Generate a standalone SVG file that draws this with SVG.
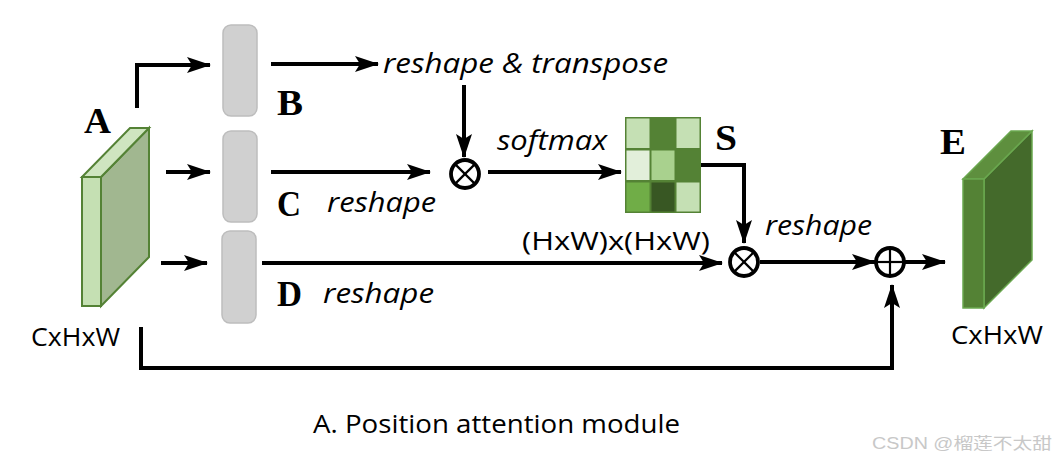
<svg xmlns="http://www.w3.org/2000/svg" width="1056" height="461" viewBox="0 0 1056 461">
<defs>
<marker id="ah" markerUnits="userSpaceOnUse" markerWidth="26" markerHeight="18" refX="23" refY="8" orient="auto">
<path d="M0,0 L24,8 L0,16 L5,8 z" fill="#000"/>
</marker>
<style>
.ln{fill:none;stroke:#000;stroke-width:4;marker-end:url(#ah)}
.op{fill:#fff;stroke:#000;stroke-width:3.8}
.opx{stroke:#000;stroke-width:2.2}
.box{fill:#d0d0d0;stroke:#bdbdbd;stroke-width:1.5}
.it{font-family:"Open Sans",sans-serif;font-style:italic;font-size:28px;fill:#000}
.rg{font-family:"Open Sans",sans-serif;font-size:25px;fill:#000}
.lb{font-family:"Liberation Serif",serif;font-weight:bold;font-size:35px;fill:#000}
</style>
</defs>
<rect width="1056" height="461" fill="#fff"/>

<g id="cubeA">
<polygon points="101,177 149,128 149,257 101,306" fill="#a1b790" stroke="#548235" stroke-width="2"/>
<polygon points="82,177 130,128 149,128 101,177" fill="#cfe5c0" stroke="#548235" stroke-width="2"/>
<rect x="82" y="177" width="19" height="129" fill="#c5e0b3" stroke="#548235" stroke-width="2"/>
<text class="lb" x="84" y="133" font-size="37" textLength="27" lengthAdjust="spacingAndGlyphs">A</text>
<text class="rg" x="31" y="346" font-size="27" textLength="89" lengthAdjust="spacingAndGlyphs">CxHxW</text>
</g>

<g id="boxB">
<rect class="box" x="223" y="25" width="34" height="91" rx="8"/>
<text class="lb" x="277" y="115" textLength="26" lengthAdjust="spacingAndGlyphs">B</text>
</g>
<g id="boxC">
<rect class="box" x="223" y="131" width="34" height="91" rx="8"/>
<text class="lb" x="277" y="216" textLength="24" lengthAdjust="spacingAndGlyphs">C</text>
</g>
<g id="boxD">
<rect class="box" x="222" y="231" width="34" height="92" rx="8"/>
<text class="lb" x="277" y="306" textLength="25" lengthAdjust="spacingAndGlyphs">D</text>
</g>

<g id="matrixS">
<rect x="625" y="117" width="76" height="96" fill="#548235"/>
<rect x="626.5" y="118.5" width="23" height="29.5" fill="#c5e0b4"/>
<rect x="651.5" y="118.5" width="23" height="29.5" fill="#548235"/>
<rect x="676.5" y="118.5" width="23" height="29.5" fill="#c5e0b4"/>
<rect x="626.5" y="150.5" width="23" height="29.5" fill="#e2efda"/>
<rect x="651.5" y="150.5" width="23" height="29.5" fill="#a9d18e"/>
<rect x="676.5" y="150.5" width="23" height="29.5" fill="#548235"/>
<rect x="626.5" y="182.5" width="23" height="29" fill="#70ad47"/>
<rect x="651.5" y="182.5" width="23" height="29" fill="#385723"/>
<rect x="676.5" y="182.5" width="23" height="29" fill="#c5e0b4"/>
<text class="lb" x="715" y="150" textLength="22" lengthAdjust="spacingAndGlyphs">S</text>
</g>

<g id="cubeE">
<polygon points="984,179 1032,131 1032,260 984,308" fill="#446a2b" stroke="#6aa84f" stroke-width="1.5"/>
<polygon points="963,179 1011,131 1032,131 984,179" fill="#5e8f3e" stroke="#6aa84f" stroke-width="1.5"/>
<rect x="963" y="179" width="21" height="129" fill="#548235" stroke="#6aa84f" stroke-width="1.5"/>
<text class="lb" x="940" y="154" textLength="26" lengthAdjust="spacingAndGlyphs">E</text>
<text class="rg" x="951" y="344" font-size="27" textLength="92" lengthAdjust="spacingAndGlyphs">CxHxW</text>
</g>

<g id="mul1">
<circle class="op" cx="465" cy="174" r="14"/>
<line class="opx" x1="455.1" y1="164.1" x2="474.9" y2="183.9"/>
<line class="opx" x1="474.9" y1="164.1" x2="455.1" y2="183.9"/>
</g>
<g id="mul2">
<circle class="op" cx="744" cy="262" r="14"/>
<line class="opx" x1="734.1" y1="252.1" x2="753.9" y2="271.9"/>
<line class="opx" x1="753.9" y1="252.1" x2="734.1" y2="271.9"/>
</g>
<g id="add">
<circle class="op" cx="890" cy="262" r="14"/>
<line class="opx" x1="876" y1="262" x2="904" y2="262"/>
<line class="opx" x1="890" y1="248" x2="890" y2="276"/>
</g>

<g id="connectors">
<polyline class="ln" points="137,108 137,65 210,65"/>
<line class="ln" x1="166" y1="172" x2="210" y2="172"/>
<line class="ln" x1="161" y1="263" x2="207" y2="263"/>
<line class="ln" x1="271" y1="64" x2="378" y2="64"/>
<line class="ln" x1="464" y1="85" x2="464" y2="157"/>
<line class="ln" x1="271" y1="172" x2="430" y2="172"/>
<line class="ln" x1="488" y1="172" x2="621" y2="172"/>
<polyline class="ln" points="701,165 744,165 744,243"/>
<line class="ln" x1="262" y1="263" x2="722" y2="263"/>
<line class="ln" x1="760" y1="262" x2="875" y2="262"/>
<line class="ln" x1="905" y1="262" x2="945" y2="262"/>
<polyline class="ln" points="141,327 141,368 892,368 892,285"/>
</g>

<g id="labels">
<text class="it" x="383" y="73" textLength="285" lengthAdjust="spacingAndGlyphs">reshape &amp; transpose</text>
<text class="it" x="497" y="150" textLength="110" lengthAdjust="spacingAndGlyphs">softmax</text>
<text class="it" x="327" y="212" textLength="109" lengthAdjust="spacingAndGlyphs">reshape</text>
<text class="it" x="323" y="303" textLength="111" lengthAdjust="spacingAndGlyphs">reshape</text>
<text class="it" x="765" y="235" textLength="107" lengthAdjust="spacingAndGlyphs">reshape</text>
<text class="rg" x="522" y="250" textLength="188" lengthAdjust="spacingAndGlyphs">(HxW)x(HxW)</text>
<text class="rg" x="313" y="433" textLength="367" lengthAdjust="spacingAndGlyphs">A. Position attention module</text>
<text x="872" y="449" font-family="'Liberation Sans','Noto Sans CJK SC',sans-serif" font-size="16" fill="#c8c8c8" textLength="180" lengthAdjust="spacingAndGlyphs">CSDN @榴莲不太甜</text>
</g>
</svg>
